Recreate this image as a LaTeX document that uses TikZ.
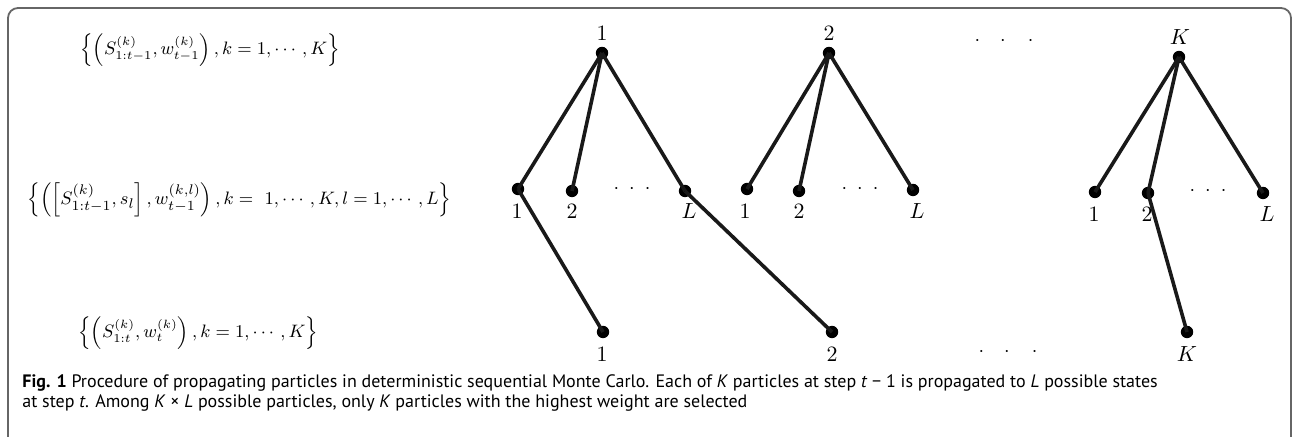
\documentclass[tikz,border=0pt]{standalone}
\usepackage{amsmath,amssymb}
\usepackage{fontspec}
\newfontfamily\capfont{PT Sans}
\usetikzlibrary{positioning}

\begin{document}
\begin{tikzpicture}[
  x=0.5pt, y=-0.5pt,
  particle/.style={
    circle,
    fill=black,
    inner sep=0pt,
    minimum width=6.2pt,
    minimum height=5.4pt,
  },
  branch/.style={
    line width=1.8pt,
    black!90,
  },
  idx/.style={
    font=\fontsize{10.5}{12}\selectfont,
    inner sep=0pt,
  },
  setlabel/.style={
    font=\fontsize{9.5}{12}\selectfont,
    inner sep=0pt,
    anchor=west,
  },
  gap/.style={
    font=\fontsize{10}{12}\selectfont,
    inner sep=0pt,
  },
]
\useasboundingbox (0,0) rectangle (1294,437);

% ============================================================
% FRAME
% ============================================================
\draw[black!60, line width=0.9pt, rounded corners=5pt]
  (8,437) -- (8,8) -- (1291,8) -- (1291,437);

% ============================================================
% SET LABELS (left)
% ============================================================
\node[setlabel, font=\fontsize{9.1}{12}\selectfont] (setprev) at (80,50)
  {$\left\{\left(S^{(k)}_{1:t-1}, w^{(k)}_{t-1}\right), k=1,\cdots,K\right\}$};
\node[setlabel] (setexp) at (27,200)
  {$\left\{\left(\left[S^{(k)}_{1:t-1}, s_l\right], w^{(k,l)}_{t-1}\right), k=\ 1,\cdots,K, l=1,\cdots,L\right\}$};
\node[setlabel, font=\fontsize{9.1}{12}\selectfont] (setnext) at (78,333)
  {$\left\{\left(S^{(k)}_{1:t}, w^{(k)}_{t}\right), k=1,\cdots,K\right\}$};

% ============================================================
% STEP t-1 (roots)
% ============================================================
\node[particle] (r1) at (602,53) {};
\node[particle] (r2) at (829,53) {};
\node[particle] (rK) at (1179,57) {};
\node[idx] (r1lab) at (602,33) {$1$};
\node[idx] (r2lab) at (829,33) {$2$};
\node[idx] (rKlab) at (1180,37) {$K$};
\node[gap] (rgap) at (1004,41) {${\cdot}\hspace{10pt}{\cdot}\hspace{11pt}{\cdot}$};

% ============================================================
% EXPANDED STATES
% ============================================================
\node[particle] (a1) at (518,189) {};
\node[particle] (a2) at (572,191) {};
\node[particle] (aL) at (685,191) {};
\node[particle] (b1) at (747,189) {};
\node[particle] (b2) at (799,191) {};
\node[particle] (bL) at (913,190) {};
\node[particle] (c1) at (1095,192) {};
\node[particle] (c2) at (1148,193) {};
\node[particle] (cL) at (1263,193) {};

\node[idx] (a1lab) at (517,211) {$1$};
\node[idx] (a2lab) at (572,211) {$2$};
\node[idx] (aLlab) at (689,211) {$L$};
\node[idx] (b1lab) at (745,211) {$1$};
\node[idx] (b2lab) at (799,211) {$2$};
\node[idx] (bLlab) at (917,211) {$L$};
\node[idx] (c1lab) at (1094,214) {$1$};
\node[idx] (c2lab) at (1147,214) {$2$};
\node[idx] (cLlab) at (1267,214) {$L$};

\node[gap] (agap) at (632,189) {${\cdot}\hspace{5pt}{\cdot}\hspace{5pt}{\cdot}$};
\node[gap] (bgap) at (860,189) {${\cdot}\hspace{5pt}{\cdot}\hspace{5pt}{\cdot}$};
\node[gap] (cgap) at (1208,191) {${\cdot}\hspace{5pt}{\cdot}\hspace{5pt}{\cdot}$};

% ============================================================
% STEP t (selected)
% ============================================================
\node[particle] (s1) at (603,332) {};
\node[particle] (s2) at (832,332) {};
\node[particle] (sK) at (1187,332) {};
\node[idx] (s1lab) at (602,354) {$1$};
\node[idx] (s2lab) at (832,354) {$2$};
\node[idx] (sKlab) at (1187,354) {$K$};
\node[gap] (sgap) at (1008,352) {${\cdot}\hspace{10pt}{\cdot}\hspace{11pt}{\cdot}$};

% ============================================================
% BRANCHES
% ============================================================
\foreach \r/\c in {r1/a1, r1/a2, r1/aL, r2/b1, r2/b2, r2/bL, rK/c1, rK/c2, rK/cL,
                   a1/s1, aL/s2, c2/sK}
  \draw[branch] (\r.center) -- (\c.center);

% ============================================================
% CAPTION
% ============================================================
\node[anchor=north west, align=left, inner sep=0pt,
      font=\capfont\fontsize{9}{10}\selectfont] (caption) at (22,374)
  {\textbf{Fig. 1} Procedure of propagating particles in deterministic sequential Monte Carlo. Each of \textit{K} particles at step \textit{t} − 1 is propagated to \textit{L} possible states\\
   at step \textit{t}. Among \textit{K} × \textit{L} possible particles, only \textit{K} particles with the highest weight are selected};

\end{tikzpicture}
\end{document}
